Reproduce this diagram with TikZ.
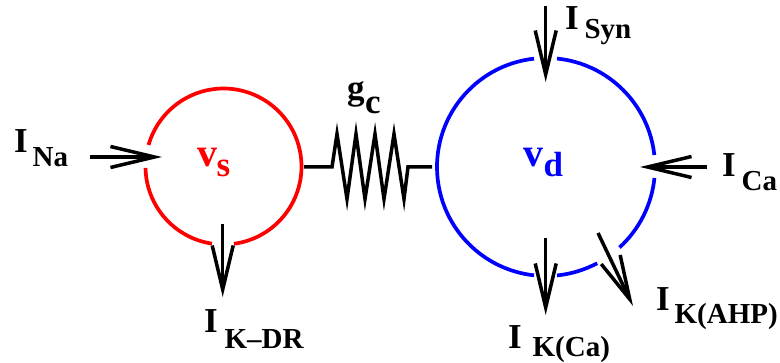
\documentclass[tikz,border=0pt]{standalone}
\usepackage{fontspec}
\setmainfont{Liberation Serif}
\usetikzlibrary{arrows.meta}
\definecolor{somared}{RGB}{255, 0, 0}
\definecolor{dendblue}{RGB}{0, 0, 255}
\newcommand{\bigsize}{\fontsize{35}{35}\selectfont\bfseries}
\newcommand{\subsize}{\fontsize{29}{29}\selectfont\bfseries}
% kern, drop, name
\newcommand{\ionlabel}[3]{\bigsize I\kern#1pt\raisebox{-#2pt}{\subsize #3}}
\tikzset{
    current/.style={line width=3.5pt, -{Straight Barb[length=44pt, width=21pt, line width=3.5pt]}},
    membrane/.style={line width=3.7pt},
    ionname/.style={anchor=base west, inner sep=0pt, outer sep=0pt},
}

\begin{document}
\begin{tikzpicture}[x=1pt, y=1pt]
            \useasboundingbox (0, 0) rectangle (780, 362);
            \coordinate (soma) at (223.5, 195.5);
            \coordinate (dend) at (546.0, 195.0);
            % Soma
            \draw[somared, membrane] (soma) ++(277.7:78) arc[start angle=277.7, end angle=524, radius=78];
            \draw[somared, membrane] (soma) ++(181:78)   arc[start angle=181, end angle=261.5, radius=78];
            % Dendrite
            \draw[dendblue, membrane] (dend) ++(6.3:109)   arc[start angle=6.3, end angle=84.2, radius=109];
            \draw[dendblue, membrane] (dend) ++(96.3:109)  arc[start angle=96.3, end angle=263.7, radius=109];
            \draw[dendblue, membrane] (dend) ++(275.8:109) arc[start angle=275.8, end angle=298, radius=109];
            \draw[dendblue, membrane] (dend) ++(312.4:109) arc[start angle=312.4, end angle=354.2, radius=109];
            % Coupling
            \coordinate (resleft)  at (304, 195);
            \coordinate (resright) at (432, 195);
            \draw[line width=3.5pt, miter limit=20] (resleft) -- (332, 195) -- (337, 228) -- (347, 163) -- (356, 228) -- (365, 163)
                 -- (375, 228) -- (384, 163) -- (394, 228) -- (404, 163) -- (408, 195) -- (resright);
            % Currents
            \coordinate (nastart)  at (90, 205);    \coordinate (naend)  at (162, 205);
            \coordinate (drstart)  at (222.7, 138); \coordinate (drend)  at (222.7, 65);
            \coordinate (synstart) at (545.7, 356); \coordinate (synend) at (545.7, 280);
            \coordinate (castart)  at (707, 195);   \coordinate (caend)  at (640, 195);
            \coordinate (kcastart) at (545.7, 124); \coordinate (kcaend) at (545.7, 47);
            \coordinate (ahpstart) at (598, 129);   \coordinate (ahpend) at (633, 56);
            \draw[current] (nastart)  -- (naend);
            \draw[current] (drstart)  -- (drend);
            \draw[current] (synstart) -- (synend);
            \draw[current] (castart)  -- (caend);
            \draw[current] (kcastart) -- (kcaend);
            \draw[current] (ahpstart) -- (ahpend);
            % Labels
            \node[ionname] (ina)  at (14, 209)  {\ionlabel{5}{14}{Na}};
            \node[ionname] (ikdr) at (204, 30)  {\ionlabel{7}{16}{K--DR}};
            \node[ionname] (isyn) at (565, 332) {\ionlabel{6}{8.5}{Syn}};
            \node[ionname] (ica)  at (722, 185) {\ionlabel{6}{14}{Ca}};
            \node[ionname] (ikca) at (508, 14)  {\ionlabel{11}{9}{K(Ca)}};
            \node[ionname] (iahp) at (656, 52)  {\ionlabel{5}{14}{K(AHP)}};
            \node[ionname, somared] (vs) at (197, 195) {\fontsize{40}{40}\selectfont\bfseries v\kern-0.5pt\raisebox{-10pt}{\fontsize{35}{35}\selectfont s}};
            \node[ionname, dendblue] (vd) at (523, 195) {\fontsize{40}{40}\selectfont\bfseries v\kern0.5pt\raisebox{-10pt}{\bigsize d}};
            \node[ionname] (gc) at (347, 262) {\bigsize g\kern0.5pt\raisebox{-14pt}{c}};
        \end{tikzpicture}
\end{document}
